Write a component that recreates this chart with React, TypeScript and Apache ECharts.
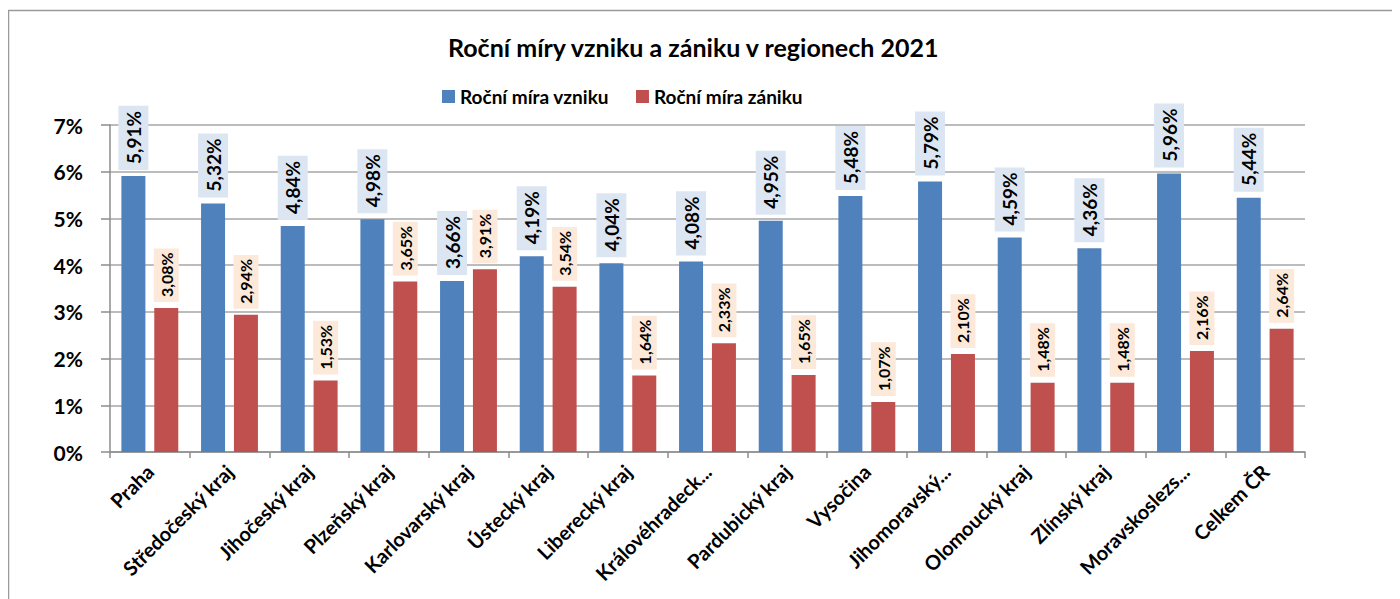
import React, { useEffect, useRef } from "react";
import * as echarts from "echarts";

const categories = [
  "Praha",
  "Středočeský kraj",
  "Jihočeský kraj",
  "Plzeňský kraj",
  "Karlovarský kraj",
  "Ústecký kraj",
  "Liberecký kraj",
  "Královéhradeck...",
  "Pardubický kraj",
  "Vysočina",
  "Jihomoravský...",
  "Olomoucký kraj",
  "Zlínský kraj",
  "Moravskoslezs...",
  "Celkem ČR",
];
const vznik = [5.91, 5.32, 4.84, 4.98, 3.66, 4.19, 4.04, 4.08, 4.95, 5.48, 5.79, 4.59, 4.36, 5.96, 5.44];
const zanik = [3.08, 2.94, 1.53, 3.65, 3.91, 3.54, 1.64, 2.33, 1.65, 1.07, 2.1, 1.48, 1.48, 2.16, 2.64];
const seriesNames = ["Roční míra vzniku", "Roční míra zániku"];
const titleText = "Roční míry vzniku a zániku v regionech 2021";

const FONT = "Lato, 'Open Sans', sans-serif";
const fmt = (v: number) => v.toFixed(2).replace(".", ",") + "%";

export default function App() {
  const ref = useRef<HTMLDivElement>(null);
  useEffect(() => {
    if (!ref.current) return;
    const chart = echarts.init(ref.current, null, { renderer: "svg" });
    chart.setOption({
      animation: false,
      textStyle: { fontFamily: FONT },
      graphic: [
        {
          type: "rect",
          shape: { x: 0.5, y: 2.5, width: 1500, height: 700 },
          style: { fill: "none", stroke: "#9a9a9a", lineWidth: 1.5 },
          silent: true,
        },
      ],
      title: {
        text: titleText,
        left: 435,
        top: 21,
        textStyle: { fontFamily: FONT, fontSize: 25, fontWeight: "bold", color: "#000" },
      },
      legend: {
        left: 429,
        top: 74,
        icon: "rect",
        itemWidth: 13,
        itemHeight: 13,
        itemGap: 27,
        textStyle: { fontFamily: FONT, fontSize: 19, fontWeight: "bold", color: "#000" },
      },
      grid: { left: 102, right: 95, top: 117, bottom: 147 },
      xAxis: {
        type: "category",
        data: categories,
        axisLine: { lineStyle: { color: "#8c8c8c", width: 1.5 } },
        axisTick: { show: true, length: 6, lineStyle: { color: "#8c8c8c", width: 1.5 } },
        axisLabel: {
          rotate: 45,
          interval: 0,
          margin: 16,
          fontFamily: FONT,
          fontSize: 20,
          fontWeight: "bold",
          color: "#000",
        },
      },
      yAxis: {
        type: "value",
        min: 0,
        max: 7,
        interval: 1,
        axisLine: { show: true, lineStyle: { color: "#8c8c8c", width: 1.5 } },
        axisTick: { show: true, length: 9, lineStyle: { color: "#8c8c8c", width: 1.5 } },
        splitLine: { lineStyle: { color: "#a6a6a6", width: 1.5 } },
        axisLabel: {
          margin: 27,
          formatter: "{value}%",
          fontFamily: FONT,
          fontSize: 21,
          fontWeight: "bold",
          color: "#000",
        },
      },
      series: [
        {
          name: seriesNames[0],
          type: "bar",
          data: vznik,
          barWidth: 24,
          barGap: "37%",
          itemStyle: { color: "#4f81bd" },
          label: {
            show: true,
            position: "top",
            rotate: 90,
            align: "left",
            verticalAlign: "middle",
            distance: 6,
            formatter: (p: any) => fmt(p.value),
            fontFamily: FONT,
            fontSize: 19,
            fontWeight: "bold",
            color: "#000",
            backgroundColor: "#dce6f2",
            padding: [6, 5, 5, 6],
          },
        },
        {
          name: seriesNames[1],
          type: "bar",
          data: zanik,
          barWidth: 24,
          itemStyle: { color: "#c0504d" },
          label: {
            show: true,
            position: "top",
            rotate: 90,
            align: "left",
            verticalAlign: "middle",
            distance: 6,
            formatter: (p: any) => fmt(p.value),
            fontFamily: FONT,
            fontSize: 16,
            fontWeight: "bold",
            color: "#000",
            backgroundColor: "#fde9d9",
            padding: [5, 4, 4, 5],
          },
        },
      ],
    });
    return () => chart.dispose();
  }, []);
  return <div ref={ref} style={{ width: 1392, height: 591 }} />;
}
